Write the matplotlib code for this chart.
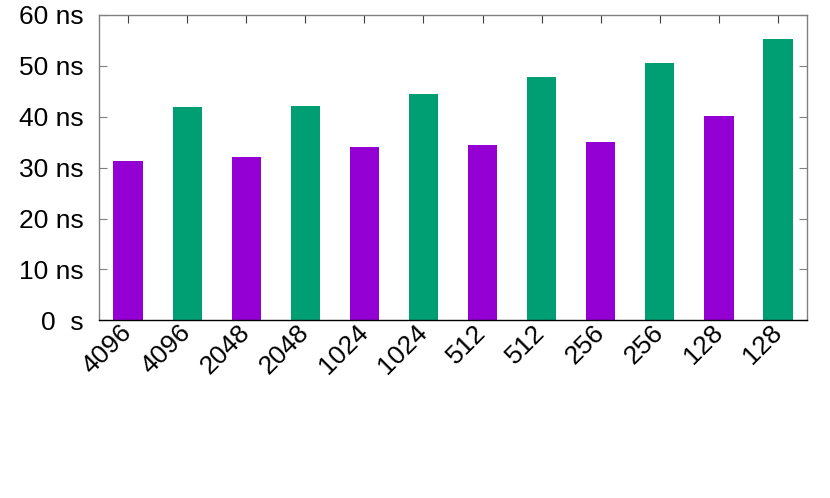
import matplotlib.pyplot as plt
import numpy as np

plt.rcParams['font.family'] = ['Liberation Sans', 'DejaVu Sans']

# etiquettes et valeurs (ns)
etiquettes = ['4096', '4096', '2048', '2048', '1024', '1024',
              '512', '512', '256', '256', '128', '128']
valeurs = [31.3, 41.9, 32.0, 42.2, 34.0, 44.4, 34.5, 47.8, 35.0, 50.5, 40.1, 55.3]
couleurs = ['#9400d3', '#009e73'] * 6
yticks = [0, 10, 20, 30, 40, 50, 60]
ylabels = ['0  s', '10 ns', '20 ns', '30 ns', '40 ns', '50 ns', '60 ns']

fig = plt.figure(figsize=(8.3, 4.98), dpi=100)
ax = fig.add_axes([0.1189, 0.3568, 0.8538, 0.6131])

x = np.arange(len(valeurs))
ax.bar(x, valeurs, width=0.5, color=couleurs, zorder=2)

ax.set_xlim(-0.5, len(valeurs) - 0.5)
ax.set_ylim(0, 60)
ax.set_yticks(yticks)
ax.set_yticklabels(ylabels, fontsize=19)
ax.set_xticks(x)
ax.set_xticklabels(etiquettes, fontsize=19, rotation=45, ha='right',
                   va='center', rotation_mode='anchor')

ax.tick_params(axis='y', direction='in', left=True, right=True, length=6,
               color='#808080', pad=11)
ax.tick_params(axis='x', direction='in', bottom=False, top=True, length=6,
               color='#404040', pad=6)

for s in ['top', 'right', 'left']:
    ax.spines[s].set_color('#808080')
ax.spines['bottom'].set_color('black')
for s in ax.spines.values():
    s.set_linewidth(1.0)

fig.savefig('out.png', dpi=100)
